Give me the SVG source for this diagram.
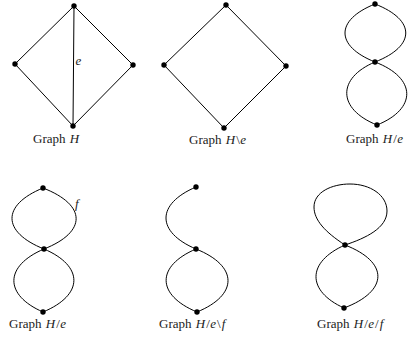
<svg xmlns="http://www.w3.org/2000/svg" width="408" height="343" viewBox="0 0 408 343">
<style>
.e{fill:none;stroke:#000;stroke-width:1}
.v{fill:#000}
.t{font-family:"Liberation Serif","DejaVu Serif",serif;font-size:13px;fill:#222}
.m{font-style:italic}
</style>
<rect width="408" height="343" fill="#fff"/>
<g id="connectors">
  <!-- Graph H -->
  <path class="e" d="M74,6 L15,64 L73,126 L133,65 Z M74,6 L73,126"/>
  <!-- Graph H\e -->
  <path class="e" d="M226,5 L164,65 L224,128 L286,66 Z"/>
  <!-- Graph H/e top right -->
  <path class="e" d="M375,4 C335,20 335,46 375,62 M375,4 C416,20 416,46 375,62 M375,62 C337,78 337,109 377,125 M375,62 C417,78 417,109 377,125"/>
  <!-- Graph H/e bottom left -->
  <path class="e" d="M43,188 C1.5,205 1.5,232 44,249 M43,188 C87,205 87,232 44,249 M44,249 C4,266 4,295 43,312 M44,249 C84,266 84,295 43,312"/>
  <!-- Graph H/e\f -->
  <path class="e" d="M196,187 C156,204 156,232 196,249 M196,249 C156,266 156,295 197,312 M196,249 C238.5,266 238.5,295 197,312"/>
  <!-- Graph H/e/f -->
  <path class="e" d="M345,245 C325,232 314,220 314,207 C314,192 332,184 350,184 C370,184 387,195 387,211 C387,228 366,238 345,245 M345,245 C306.5,262 306.5,291 344,308 M345,245 C389,262 389,291 344,308"/>
</g>
<g id="graphH">
  <circle class="v" cx="74" cy="6" r="2.7"/>
  <circle class="v" cx="15" cy="64" r="2.7"/>
  <circle class="v" cx="133" cy="65" r="2.7"/>
  <circle class="v" cx="73" cy="126" r="2.7"/>
  <text class="t m" x="75.5" y="65">e</text>
  <text class="t" x="33" y="143">Graph <tspan class="m" dx="1">H</tspan></text>
</g>
<g id="graphHe_del">
  <circle class="v" cx="226" cy="5" r="2.7"/>
  <circle class="v" cx="164" cy="65" r="2.7"/>
  <circle class="v" cx="286" cy="66" r="2.7"/>
  <circle class="v" cx="224" cy="128" r="2.7"/>
  <text class="t" x="189" y="144">Graph <tspan class="m" dx="1">H</tspan><tspan dx="1">\</tspan><tspan class="m" dx="0.5">e</tspan></text>
</g>
<g id="graphHe_con">
  <circle class="v" cx="375" cy="4" r="2.7"/>
  <circle class="v" cx="375" cy="62" r="2.7"/>
  <circle class="v" cx="377" cy="125" r="2.7"/>
  <text class="t" x="346" y="143">Graph <tspan class="m" dx="1">H</tspan><tspan dx="1">/</tspan><tspan class="m" dx="0.5">e</tspan></text>
</g>
<g id="graphHe2">
  <circle class="v" cx="43" cy="188" r="2.7"/>
  <circle class="v" cx="44" cy="249" r="2.7"/>
  <circle class="v" cx="43" cy="312" r="2.7"/>
  <text class="t m" x="75" y="208">f</text>
  <text class="t" x="9" y="328">Graph <tspan class="m" dx="1">H</tspan><tspan dx="1">/</tspan><tspan class="m" dx="0.5">e</tspan></text>
</g>
<g id="graphHef_del">
  <circle class="v" cx="196" cy="187" r="2.7"/>
  <circle class="v" cx="196" cy="249" r="2.7"/>
  <circle class="v" cx="197" cy="312" r="2.7"/>
  <text class="t" x="159" y="328">Graph <tspan class="m" dx="1">H</tspan><tspan dx="1">/</tspan><tspan class="m" dx="0.5">e</tspan><tspan dx="1">\</tspan><tspan class="m" dx="1">f</tspan></text>
</g>
<g id="graphHef_con">
  <circle class="v" cx="345" cy="245" r="2.7"/>
  <circle class="v" cx="344" cy="308" r="2.7"/>
  <text class="t" x="317" y="328">Graph <tspan class="m" dx="1">H</tspan><tspan dx="1">/</tspan><tspan class="m" dx="0.5">e</tspan><tspan dx="1">/</tspan><tspan class="m" dx="1">f</tspan></text>
</g>
</svg>
